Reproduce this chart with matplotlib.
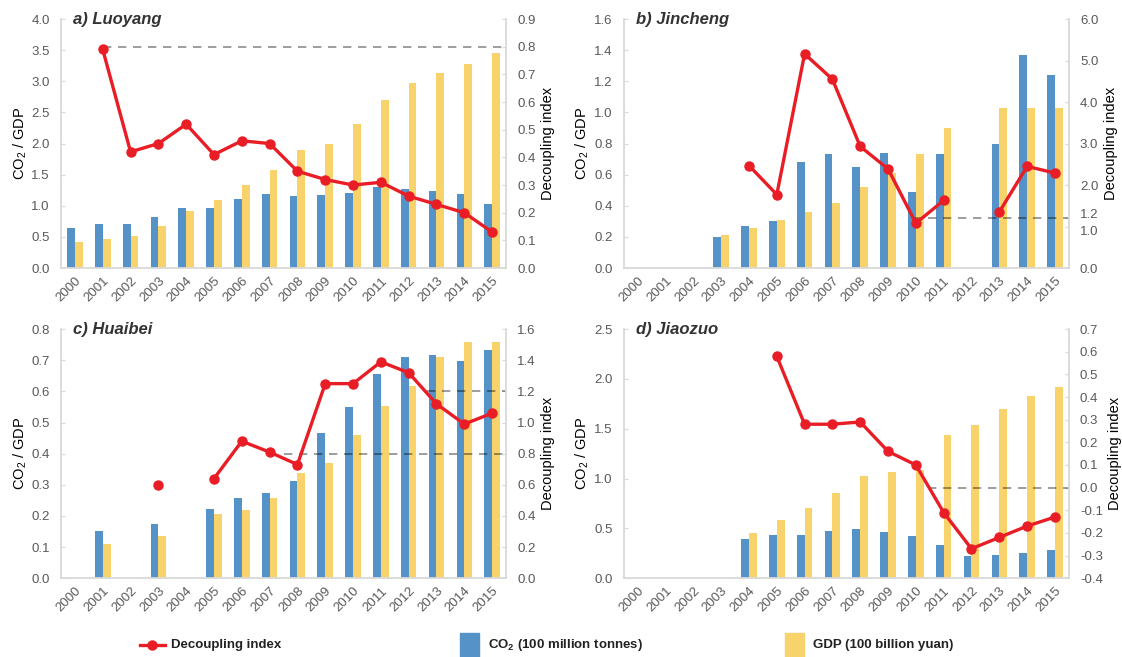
import numpy as np
import matplotlib
matplotlib.use('Agg')
import matplotlib.pyplot as plt
import matplotlib.transforms as mtransforms
from matplotlib.lines import Line2D
from matplotlib.patches import Rectangle

plt.rcParams['font.family'] = ['Liberation Sans', 'DejaVu Sans']
plt.rcParams['mathtext.fontset'] = 'custom'
plt.rcParams['mathtext.rm'] = 'Liberation Sans'

nan = np.nan
years = [str(y) for y in range(2000, 2016)]

# a) Luoyang
co2_luoyang = [0.64, 0.70, 0.71, 0.82, 0.96, 0.96, 1.11, 1.19, 1.15, 1.17, 1.21, 1.31, 1.27, 1.24, 1.19, 1.03]
gdp_luoyang = [0.42, 0.46, 0.52, 0.68, 0.91, 1.10, 1.33, 1.58, 1.90, 2.00, 2.31, 2.70, 2.97, 3.13, 3.27, 3.46]
di_luoyang = [nan, 0.79, 0.42, 0.45, 0.52, 0.41, 0.46, 0.45, 0.35, 0.32, 0.30, 0.31, 0.26, 0.23, 0.20, 0.13]

# b) Jincheng
co2_jincheng = [nan, nan, nan, 0.20, 0.27, 0.30, 0.68, 0.73, 0.65, 0.74, 0.49, 0.73, nan, 0.80, 1.37, 1.24]
gdp_jincheng = [nan, nan, nan, 0.21, 0.26, 0.31, 0.36, 0.42, 0.52, 0.61, 0.73, 0.90, nan, 1.03, 1.03, 1.03]
di_jincheng = [nan, nan, nan, nan, 2.47, 1.77, 5.16, 4.55, 2.93, 2.39, 1.08, 1.63, nan, 1.35, 2.45, 2.29]

# c) Huaibei
co2_huaibei = [nan, 0.153, nan, 0.173, nan, 0.221, 0.257, 0.274, 0.313, 0.466, 0.549, 0.657, 0.712, 0.717, 0.698, 0.734]
gdp_huaibei = [nan, 0.110, nan, 0.135, nan, 0.207, 0.219, 0.258, 0.338, 0.370, 0.460, 0.552, 0.618, 0.712, 0.758, 0.758]
di_huaibei = [nan, nan, nan, 0.60, nan, 0.64, 0.88, 0.81, 0.73, 1.25, 1.25, 1.39, 1.32, 1.12, 0.99, 1.06]

# d) Jiaozuo
co2_jiaozuo = [nan, nan, nan, nan, 0.39, 0.43, 0.43, 0.47, 0.49, 0.46, 0.42, 0.33, 0.22, 0.23, 0.25, 0.28]
gdp_jiaozuo = [nan, nan, nan, nan, 0.45, 0.58, 0.70, 0.85, 1.03, 1.07, 1.09, 1.44, 1.54, 1.70, 1.83, 1.92]
di_jiaozuo = [nan, nan, nan, nan, nan, 0.58, 0.28, 0.28, 0.29, 0.16, 0.10, -0.11, -0.27, -0.22, -0.17, -0.13]

BLUE = '#5592c8'
YELLOW = '#f8d36b'
RED = '#e81d25'
GRID = '#d9d9d9'
TICK = '#595959'

x = np.arange(len(years))
w = 0.28

fig = plt.figure(figsize=(11.22, 6.57), dpi=100)


def clean(vals):
    # round away float noise and turn -0.0 into 0.0
    return np.round(np.asarray(vals, dtype=float), 2) + 0.0


def panel(rect, title, co2, gdp, di, lim1, step1, lim2, ticks2, thresholds):
    ax = fig.add_axes(rect)
    ax.bar(x - w / 2, co2, w, color=BLUE, zorder=2)
    ax.bar(x + w / 2, gdp, w, color=YELLOW, zorder=2)
    ax.set_xlim(-0.5, 15.5)
    ax.set_ylim(*lim1)
    ax.set_yticks(clean(np.arange(lim1[0], lim1[1] + step1 / 2, step1)))
    ax.yaxis.set_major_formatter(plt.FormatStrFormatter('%.1f'))
    ax.set_xticks(x)
    ax.set_xticklabels(years, rotation=45, ha='right', va='top', rotation_mode='anchor')
    ax.tick_params(axis='x', length=0, pad=5, labelsize=9.5, labelcolor=TICK)
    ax.tick_params(axis='y', direction='in', length=3, color=GRID, pad=8,
                   labelsize=9.5, labelcolor=TICK)
    ax.set_ylabel(r'CO$_\mathregular{2}$ / GDP', fontsize=10.5, labelpad=2)
    for s in ['top', 'right']:
        ax.spines[s].set_visible(False)
    for s in ['left', 'bottom']:
        ax.spines[s].set_color(GRID)
        ax.spines[s].set_linewidth(1.3)

    ax2 = ax.twinx()
    for level, start in thresholds:
        ax2.plot([start, 15.5], [level, level], color='black', alpha=0.45,
                 lw=1.2, ls=(0, (5, 4)), zorder=2)
    ax2.plot(x, di, color=RED, lw=2.4, marker='o', ms=6.5, zorder=3)
    ax2.set_ylim(*lim2)
    ax2.set_yticks(clean(ticks2))
    ax2.yaxis.set_major_formatter(plt.FormatStrFormatter('%.1f'))
    ax2.tick_params(axis='y', direction='in', length=3, color=GRID, pad=8,
                    labelsize=9.5, labelcolor=TICK)
    ax2.set_ylabel('Decoupling index', fontsize=10.5, labelpad=4)
    for s in ['top', 'left', 'bottom']:
        ax2.spines[s].set_visible(False)
    ax2.spines['right'].set_color(GRID)
    ax2.spines['right'].set_linewidth(1.3)
    ax2.set_xlim(-0.5, 15.5)

    ax.text(0.028, 1.0, title, transform=ax.transAxes, fontsize=12,
            fontweight='bold', style='italic', color='#333333', va='center')
    return ax, ax2


W = 0.3966
H = 0.379
panel([0.0544, 0.592, W, H], 'a) Luoyang', co2_luoyang, gdp_luoyang, di_luoyang,
      (0, 4.0), 0.5, (0, 0.9), np.arange(0, 0.95, 0.1), [(0.8, 1.0)])
_, axb2 = panel([0.556, 0.592, W, H], 'b) Jincheng', co2_jincheng, gdp_jincheng, di_jincheng,
                (0, 1.6), 0.2, (0, 6.0), [0, 1.0, 1.2, 2.0, 3.0, 4.0, 5.0, 6.0], [(1.2, 9.9)])
panel([0.0544, 0.120, W, H], 'c) Huaibei', co2_huaibei, gdp_huaibei, di_huaibei,
      (0, 0.8), 0.1, (0, 1.6), np.arange(0, 1.65, 0.2), [(0.8, 7.5), (1.2, 12.65)])
panel([0.556, 0.120, W, H], 'd) Jiaozuo', co2_jiaozuo, gdp_jiaozuo, di_jiaozuo,
      (0, 2.5), 0.5, (-0.4, 0.7), np.arange(-0.4, 0.75, 0.1), [(0.0, 10.45)])

# spread the crowded 1.0 / 1.2 labels on the Jincheng index axis
for lab, dy in zip(axb2.get_yticklabels()[1:3], [-2.5, 3.5]):
    lab.set_transform(lab.get_transform() +
                      mtransforms.ScaledTranslation(0, dy / 72, fig.dpi_scale_trans))

# legend row along the bottom edge
fh, fw = 657.0, 1122.0
ly = 1 - 645 / fh
fig.add_artist(Line2D([140 / fw, 165 / fw], [ly, ly], color=RED, lw=2.4,
                      transform=fig.transFigure))
fig.add_artist(Line2D([152 / fw], [ly], color=RED, marker='o', ms=6.5,
                      transform=fig.transFigure))
fig.text(171 / fw, ly, 'Decoupling index', fontsize=9.5, fontweight='bold',
         color='#222222', va='center')
fig.add_artist(Rectangle((460 / fw, 0), 19 / fw, 24 / fh, color=BLUE,
                         transform=fig.transFigure))
fig.text(488 / fw, ly, r'CO$_\mathregular{2}$ (100 million tonnes)', fontsize=9.5,
         fontweight='bold', color='#222222', va='center')
fig.add_artist(Rectangle((785 / fw, 0), 19 / fw, 24 / fh, color=YELLOW,
                         transform=fig.transFigure))
fig.text(813 / fw, ly, 'GDP (100 billion yuan)', fontsize=9.5, fontweight='bold',
         color='#222222', va='center')

fig.savefig('out.png', dpi=100)
